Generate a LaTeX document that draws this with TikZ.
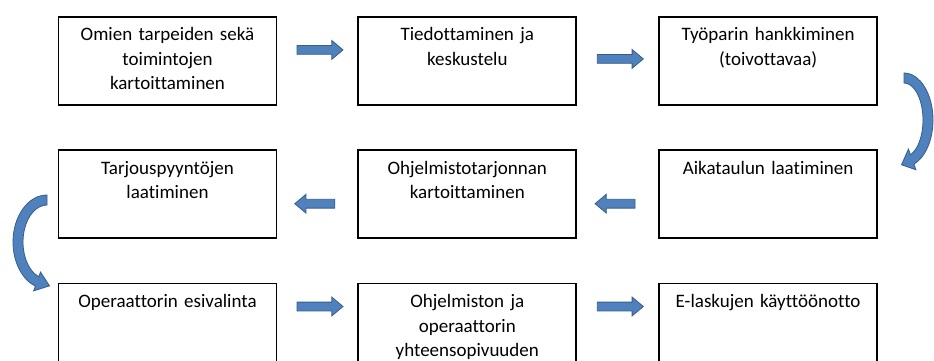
\documentclass[tikz,border=0pt]{standalone}
\usepackage{fontspec}
\setmainfont{Carlito}[Ligatures=NoCommon]
\usepackage{tikz}
\usetikzlibrary{positioning, shapes.arrows, calc}
\definecolor{arrowblue}{RGB}{79,129,189}
\definecolor{arrowedge}{RGB}{56,93,138}

\begin{document}
\begin{tikzpicture}[x=1pt, y=1pt, font=\fontsize{19}{24.5}\selectfont,
    stepbox/.style={draw, line width=1.8pt, text width=200pt, align=center,
        inner xsep=9pt, inner ysep=10pt, text height=14pt, text depth=54pt},
    flowarrow/.style={single arrow, fill=arrowblue, draw=arrowedge, line width=0.8pt,
        minimum height=46pt, inner xsep=0pt, inner ysep=4pt,
        single arrow head extend=5pt, single arrow tip angle=80},
    bendarrow/.style={fill=arrowblue, draw=arrowedge, line width=0.8pt}]
        \fill[white] (0,0) rectangle (934,-360);
        \clip (0,0) rectangle (934,-360);
        
        % Rivi 1
        \node[stepbox, anchor=north] (p1) at (167.5,-16) {Omien tarpeiden sekä\\toimintojen\\kartoittaminen};
        \node[stepbox, right=80pt of p1] (p2) {Tiedottaminen ja\\keskustelu};
        \node[stepbox, right=81pt of p2] (p3) {Työparin hankkiminen\\(toivottavaa)};
        
        % Rivi 2
        \node[stepbox, below=43.5pt of p3] (p4) {Aikataulun laatiminen};
        \node[stepbox, left=81pt of p4] (p5) {Ohjelmistotarjonnan\\kartoittaminen};
        \node[stepbox, left=80pt of p5] (p6) {Tarjouspyyntöjen\\laatiminen};
        
        % Rivi 3
        \node[stepbox, below=43.5pt of p6] (p7) {Operaattorin esivalinta};
        \node[stepbox, right=80pt of p7] (p8) {Ohjelmiston ja\\operaattorin\\yhteensopivuuden};
        \node[stepbox, right=81pt of p8] (p9) {E-laskujen käyttöönotto};
        
        % Nuolet
        \node[flowarrow, yshift=11pt] (a12) at ($(p1.east)!0.5!(p2.west)$) {};
        \node[flowarrow, yshift=2pt] (a23) at ($(p2.east)!0.5!(p3.west)$) {};
        \node[flowarrow, shape border rotate=180, minimum height=40pt, yshift=-9.5pt] (a45) at ($(p4.west)!0.5!(p5.east)$) {};
        \node[flowarrow, shape border rotate=180, minimum height=40pt, yshift=-9.5pt] (a56) at ($(p5.west)!0.5!(p6.east)$) {};
        \node[flowarrow, yshift=21pt] (a78) at ($(p7.east)!0.5!(p8.west)$) {};
        \node[flowarrow, yshift=21pt] (a89) at ($(p8.east)!0.5!(p9.west)$) {};
        
        % Kaarinuolet
        \coordinate (rc) at (904,-120);
        \draw[bendarrow] ($(rc)+(90:29pt and 47pt)$)
            arc[start angle=90, end angle=-70, x radius=29pt, y radius=47pt]
            -- ($(rc)+(-70:35pt and 53pt)$) -- ($(rc)+(-96:24pt and 45pt)$)
            -- ($(rc)+(-70:13pt and 31pt)$) -- ($(rc)+(-70:19pt and 37pt)$)
            arc[start angle=-70, end angle=90, x radius=19pt, y radius=37pt] -- cycle;
        \coordinate (lc) at (47,-242);
        \draw[bendarrow] ($(lc)+(90:34pt and 47pt)$)
            arc[start angle=90, end angle=250, x radius=34pt, y radius=47pt]
            -- ($(lc)+(250:39pt and 52pt)$) -- ($(lc)+(275:29pt and 44pt)$)
            -- ($(lc)+(250:19pt and 32pt)$) -- ($(lc)+(250:24pt and 37pt)$)
            arc[start angle=250, end angle=90, x radius=24pt, y radius=37pt] -- cycle;
\end{tikzpicture}
\end{document}
